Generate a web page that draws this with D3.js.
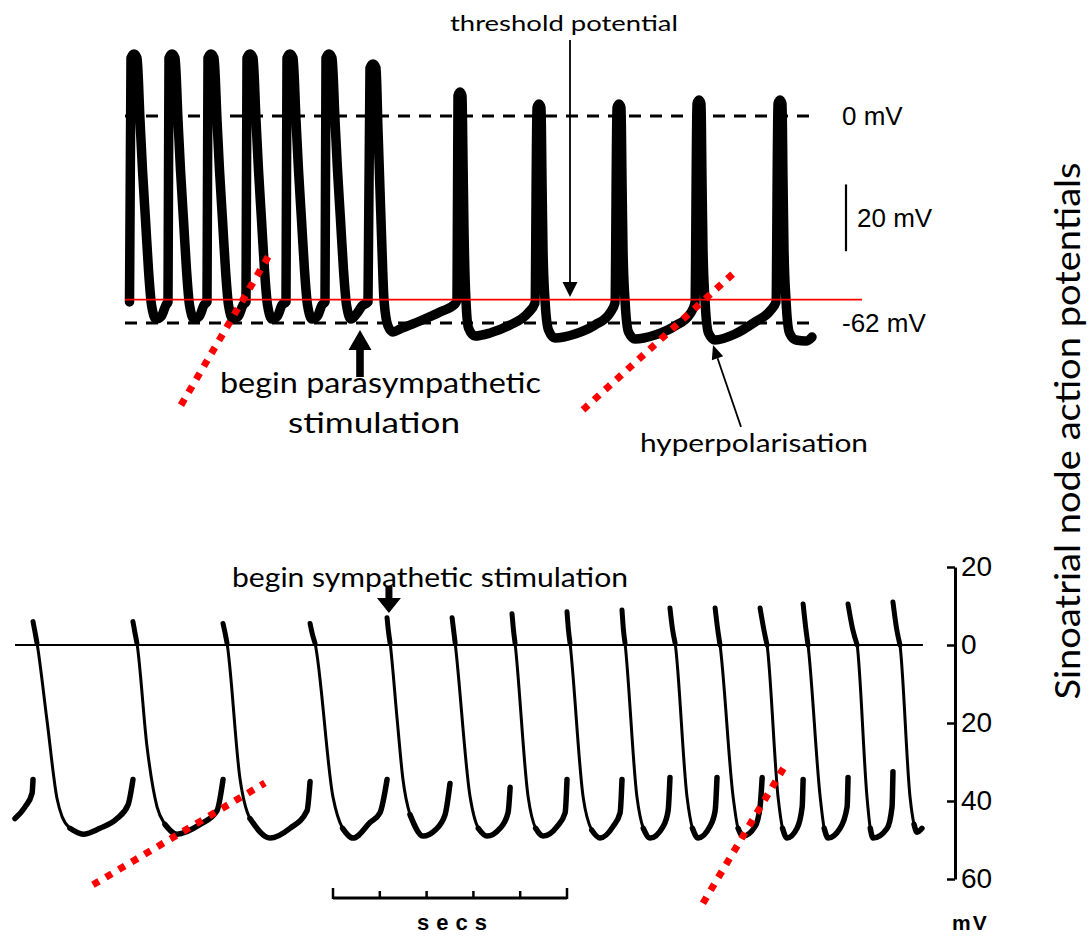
<!DOCTYPE html>
<html>
<head>
<meta charset="utf-8">
<script src="https://cdn.jsdelivr.net/npm/d3@7"></script>
<style>
  body { margin: 0; background: #fff; }
  svg { display: block; }
</style>
</head>
<body>
<svg id="chart" width="1091" height="939"></svg>
<script>
// ---------- Top record: vagal (parasympathetic) slowing, time in ms, membrane potential in mV ----------
const topTrace = [
  [18,-55.7],[24,17.4],[36,18.6],[48,17.4],[60,-1.2],[70,-16.2],[82,-31.1],[94,-46.1],[106,-56.6],[124,-60.8],[146,-59.9],[164,-56.6],
  [172,-55.7],[176,17.4],[188,18.6],[200,17.4],[212,-1.2],[222,-16.2],[234,-31.1],[246,-46.1],[258,-56.6],[276,-60.8],[298,-59.9],[316,-56.6],
  [328,-55.7],[332,17.4],[344,18.6],[356,17.4],[368,-1.2],[378,-16.2],[390,-31.1],[402,-46.1],[414,-56.6],[432,-60.8],[454,-59.9],[472,-56.6],
  [484,-55.7],[488,17.4],[500,18.6],[512,17.4],[524,-1.2],[534,-16.2],[546,-31.1],[558,-46.1],[570,-56.6],[588,-60.8],[610,-59.9],[628,-56.6],
  [644,-55.7],[648,17.4],[660,18.6],[672,17.4],[684,-1.2],[694,-16.2],[706,-31.1],[718,-46.1],[730,-56.6],[748,-60.8],[770,-59.9],[788,-56.6],
  [800,-55.7],[804,17.4],[816,18.6],[828,17.4],[840,-1.2],[850,-16.2],[862,-31.1],[874,-46.1],[886,-56.6],[904,-60.8],[926,-59.3],[948,-56.9],[972,-55.7],
  [980,14.4],[992,15.6],[1004,14.4],[1012,-4.2],[1020,-22.2],[1028,-40.1],[1036,-55.1],[1052,-62.9],[1072,-64.7],[1100,-63.8],[1180,-61.4],[1260,-58.7],[1320,-56.3],
  [1328,-55.1],[1332,6.0],[1340,7.2],[1348,6.0],[1352,-13.2],[1356,-34.1],[1362,-52.1],[1374,-63.5],[1400,-65.9],[1460,-65.0],[1540,-62.6],[1612,-59.0],[1640,-56.0],
  [1648,2.4],[1656,3.6],[1664,2.4],[1668,-19.2],[1672,-40.1],[1680,-55.1],[1694,-64.1],[1720,-66.5],[1800,-65.3],[1880,-62.6],[1940,-59.0],[1960,-56.0],
  [1968,2.4],[1976,3.6],[1984,2.4],[1988,-19.2],[1992,-40.1],[2000,-55.1],[2014,-64.7],[2040,-66.8],[2120,-65.6],[2200,-62.9],[2260,-59.3],[2280,-56.0],
  [2288,3.6],[2296,4.8],[2304,3.6],[2308,-19.2],[2312,-40.1],[2320,-55.1],[2334,-65.0],[2360,-67.1],[2440,-65.3],[2520,-61.7],[2580,-58.4],[2604,-55.7],
  [2612,3.6],[2620,4.8],[2628,3.6],[2632,-19.2],[2636,-40.1],[2644,-55.1],[2658,-65.0],[2684,-67.1],[2724,-67.4],[2748,-66.2]
];
const topRefLevels = [0, -62];
const topRefLabels = ["0 mV", "-62 mV"];
const thresholdMv = -55;
const scaleBarMv = 20;
const topSlopeLines = [
  [[224,-86.6],[584,-40.7]],
  [[1832,-88.0],[2440,-46.7]]
];

// ---------- Bottom record: sympathetic acceleration (oscilloscope sweep, upstrokes not visible) ----------
const bottomSegments = [
  [[0,-44.5],[43,-41.5],[73,-38],[77,-34.5]],
  [[77,6],[85,3.5],[94,0.5],[137,-19.5],[180,-39.5],[201,-44],[235,-47],[291,-48.5],[363,-47],[436,-44.5],[483,-41],[504,-34.5]],
  [[504,6],[513,3],[521,0.5],[564,-26],[607,-41.5],[641,-46],[692,-48.5],[791,-46],[863,-42.5],[889,-34.5]],
  [[889,5.5],[898,3],[906,0.5],[962,-34.5],[1004,-44.5],[1090,-49.5],[1175,-47],[1248,-42.5],[1261,-35]],
  [[1261,5.5],[1270,3],[1282,0.5],[1359,-39],[1400,-47],[1445,-49.5],[1517,-45.5],[1560,-43],[1590,-34.5]],
  [[1590,7],[1596,3.5],[1603,0.5],[1633,-19],[1658,-34.5],[1688,-43.5],[1744,-49],[1795,-47.5],[1838,-43.5],[1859,-35.5]],
  [[1868,7],[1875,3.5],[1881,0.5],[1945,-39],[1980,-47],[2017,-49],[2073,-47],[2107,-43],[2116,-36.5]],
  [[2124,8],[2130,4],[2137,0.5],[2193,-39],[2225,-47],[2257,-49],[2317,-46.5],[2351,-43],[2359,-34.5]],
  [[2359,8.5],[2365,4],[2372,0.5],[2428,-39],[2465,-47.5],[2500,-49.5],[2556,-46.5],[2586,-43],[2594,-34.5]],
  [[2594,9],[2600,4],[2607,0.5],[2658,-39],[2685,-47],[2714,-49.5],[2770,-46.5],[2791,-42.5],[2799,-34]],
  [[2799,9.5],[2810,4],[2821,0.5],[2872,-39],[2895,-47],[2919,-49.5],[2970,-46.5],[2992,-42.5],[3000,-34]],
  [[2992,9.5],[3003,4],[3013,0],[3069,-39],[3090,-47],[3111,-49],[3163,-46.5],[3184,-41.5],[3193,-34]],
  [[3184,9.5],[3200,4],[3214,0],[3261,-39],[3280,-47],[3299,-49.5],[3342,-47],[3364,-41.5],[3368,-34.5]],
  [[3368,10.5],[3380,4],[3389,0],[3441,-39],[3458,-47],[3475,-49.5],[3526,-47],[3556,-41.5],[3560,-34]],
  [[3560,10.5],[3580,4],[3599,0],[3641,-39],[3655,-47],[3667,-49.5],[3727,-47],[3748,-41.5],[3752,-32.5]],
  [[3752,11],[3768,4],[3782,0],[3825,-39],[3842,-46],[3855,-48],[3876,-47]]
];
const bottomTicks = [20, 0, -20, -40, -60];
const secsStart = 1359;
const secsTicks = [0, 200, 400, 600, 800, 1000];
const bottomSlopeLines = [
  [[333,-61.5],[1068,-35.4]],
  [[2940,-66.2],[3300,-30.0]]
];

// ---------- drawing ----------
const svg = d3.select("#chart");
svg.append("rect").attr("width", 1091).attr("height", 939).attr("fill", "#fff");

const calibriLike = "Lato, 'Open Sans', sans-serif";
const arialLike = "'Liberation Sans', Arial, sans-serif";
const RED = "#ff0000";

// Top panel scales
const xTop = d3.scaleLinear().domain([0, 2760]).range([125, 815]);
const yTop = d3.scaleLinear().domain([0, -62]).range([116, 323]);

const gTop = svg.append("g");

// dashed reference levels
gTop.selectAll("line.ref").data(topRefLevels).join("line")
  .attr("class", "ref")
  .attr("x1", xTop(0)).attr("x2", xTop(2760))
  .attr("y1", d => yTop(d)).attr("y2", d => yTop(d))
  .attr("stroke", "#000").attr("stroke-width", 3)
  .attr("stroke-dasharray", "12,9");

// membrane potential trace
const lineTop = d3.line().x(d => xTop(d[0])).y(d => yTop(d[1])).curve(d3.curveMonotoneX);
gTop.append("path").datum(topTrace)
  .attr("d", lineTop)
  .attr("fill", "none").attr("stroke", "#000")
  .attr("stroke-width", 9.5).attr("stroke-linejoin", "round").attr("stroke-linecap", "round");

// threshold level
gTop.append("line")
  .attr("x1", xTop(0)).attr("x2", xTop(2948))
  .attr("y1", yTop(thresholdMv)).attr("y2", yTop(thresholdMv))
  .attr("stroke", RED).attr("stroke-width", 1.6);

// reference labels
gTop.selectAll("text.ref").data(topRefLevels).join("text")
  .attr("class", "ref")
  .attr("x", 842).attr("y", d => yTop(d) + 9)
  .attr("font-family", arialLike).attr("font-size", 26).attr("fill", "#000")
  .text((d, i) => topRefLabels[i]);

// 20 mV calibration bar
const barTop = -20.5;
gTop.append("line")
  .attr("x1", 846).attr("x2", 846)
  .attr("y1", yTop(barTop)).attr("y2", yTop(barTop - scaleBarMv))
  .attr("stroke", "#000").attr("stroke-width", 2.2);
gTop.append("text")
  .attr("x", 857).attr("y", yTop(barTop - scaleBarMv / 2) + 9)
  .attr("font-family", arialLike).attr("font-size", 26).attr("fill", "#000")
  .text(scaleBarMv + " mV");

// red dotted slope guides
function dotted(g, lines, xs, ys) {
  g.selectAll(null).data(lines).join("line")
    .attr("x1", d => xs(d[0][0])).attr("y1", d => ys(d[0][1]))
    .attr("x2", d => xs(d[1][0])).attr("y2", d => ys(d[1][1]))
    .attr("stroke", RED).attr("stroke-width", 7)
    .attr("stroke-dasharray", "7,8");
}
dotted(gTop, topSlopeLines, xTop, yTop);

// thin arrow helper
function thinArrow(g, x1, y1, x2, y2, headLen, headHalf) {
  const a = Math.atan2(y2 - y1, x2 - x1);
  const bx = x2 - headLen * Math.cos(a), by = y2 - headLen * Math.sin(a);
  g.append("line").attr("x1", x1).attr("y1", y1).attr("x2", bx).attr("y2", by)
    .attr("stroke", "#000").attr("stroke-width", 1.8);
  const px = -Math.sin(a) * headHalf, py = Math.cos(a) * headHalf;
  g.append("path")
    .attr("d", `M${x2},${y2}L${bx + px},${by + py}L${bx - px},${by - py}Z`)
    .attr("fill", "#000");
}
// block arrow helper (vertical)
function blockArrow(g, tipX, tipY, dir, headLen, headHalf, shaftLen, shaftHalf) {
  const s = dir; // +1 points up (shaft below), -1 points down (shaft above)
  const hb = tipY + s * headLen, se = hb + s * shaftLen;
  g.append("path")
    .attr("d", `M${tipX},${tipY}L${tipX + headHalf},${hb}L${tipX + shaftHalf},${hb}L${tipX + shaftHalf},${se}` +
               `L${tipX - shaftHalf},${se}L${tipX - shaftHalf},${hb}L${tipX - headHalf},${hb}Z`)
    .attr("fill", "#000");
}

// threshold annotation
gTop.append("text").attr("x", 450).attr("y", 31)
  .attr("font-family", calibriLike).attr("font-size", 22).attr("fill", "#000")
  .attr("textLength", 228).attr("lengthAdjust", "spacingAndGlyphs")
  .text("threshold potential");
thinArrow(gTop, xTop(1780), yTop(22.8), xTop(1780), yTop(-54.2), 15, 7.5);

// onset of vagal stimulation
blockArrow(gTop, xTop(940), yTop(-64.1), 1, 20, 11.5, 27, 3.8);
gTop.append("text").attr("x", 220).attr("y", 393)
  .attr("font-family", calibriLike).attr("font-size", 29).attr("fill", "#000")
  .attr("textLength", 321).attr("lengthAdjust", "spacingAndGlyphs")
  .text("begin parasympathetic");
gTop.append("text").attr("x", 288).attr("y", 433)
  .attr("font-family", calibriLike).attr("font-size", 29).attr("fill", "#000")
  .attr("textLength", 172).attr("lengthAdjust", "spacingAndGlyphs")
  .text("stimulation");

// hyperpolarisation annotation
thinArrow(gTop, xTop(2464), yTop(-93.1), xTop(2352), yTop(-68.6), 14, 6);
gTop.append("text").attr("x", 640).attr("y", 452)
  .attr("font-family", calibriLike).attr("font-size", 25).attr("fill", "#000")
  .attr("textLength", 228).attr("lengthAdjust", "spacingAndGlyphs")
  .text("hyperpolarisation");

// ---------- Bottom panel ----------
const xBot = d3.scaleLinear().domain([0, 3900]).range([15, 927.6]);
const yBot = d3.scaleLinear().domain([20, -60]).range([567, 879]);
const gBot = svg.append("g");

// zero line
gBot.append("line")
  .attr("x1", xBot(0)).attr("x2", xBot(3880))
  .attr("y1", yBot(0)).attr("y2", yBot(0))
  .attr("stroke", "#000").attr("stroke-width", 2.2);

const lineBot = d3.line().x(d => xBot(d[0])).y(d => yBot(d[1])).curve(d3.curveMonotoneX);
bottomSegments.forEach((seg, i) => {
  gBot.append("path").datum(seg).attr("d", lineBot)
    .attr("fill", "none").attr("stroke", "#000").attr("stroke-width", 3)
    .attr("stroke-linecap", "round").attr("stroke-linejoin", "round");
  // slow diastolic portion is traced heavier by the beam
  const minIdx = d3.minIndex(seg, d => d[1]);
  gBot.append("path").datum(seg.slice(Math.max(0, minIdx - 1)))
    .attr("d", lineBot)
    .attr("fill", "none").attr("stroke", "#000").attr("stroke-width", 5.5)
    .attr("stroke-linecap", "round");
  if (i > 0) {
    gBot.append("path").datum(seg.slice(0, 3)).attr("d", lineBot)
      .attr("fill", "none").attr("stroke", "#000").attr("stroke-width", 5)
      .attr("stroke-linecap", "round");
  }
});

dotted(gBot, bottomSlopeLines, xBot, yBot);

// voltage axis (mV, shown without sign)
const axis = d3.axisRight(yBot).tickValues(bottomTicks).tickFormat(d => Math.abs(d))
  .tickSizeInner(-8).tickSizeOuter(0).tickPadding(6);
const gAxis = gBot.append("g").attr("transform", "translate(955,0)").call(axis);
gAxis.select(".domain").attr("stroke", "#000").attr("stroke-width", 3);
gAxis.selectAll(".tick line").attr("stroke", "#000").attr("stroke-width", 2.5);
gAxis.selectAll(".tick text").attr("font-family", arialLike).attr("font-size", 28).attr("fill", "#000");
gBot.append("text").attr("x", 952).attr("y", 930)
  .attr("font-family", arialLike).attr("font-size", 21).attr("font-weight", "bold")
  .attr("letter-spacing", 2).attr("fill", "#000")
  .text("mV");

// time calibration bar
gBot.append("line")
  .attr("x1", xBot(secsStart)).attr("x2", xBot(secsStart + 1000))
  .attr("y1", 898).attr("y2", 898)
  .attr("stroke", "#000").attr("stroke-width", 3);
gBot.selectAll("line.sec").data(secsTicks).join("line").attr("class", "sec")
  .attr("x1", d => xBot(secsStart + d)).attr("x2", d => xBot(secsStart + d))
  .attr("y1", 899).attr("y2", (d, i) => (i === 0 || i === secsTicks.length - 1) ? 888 : 891)
  .attr("stroke", "#000").attr("stroke-width", 2.5);
gBot.append("text").attr("x", 417).attr("y", 930)
  .attr("font-family", arialLike).attr("font-size", 22).attr("font-weight", "bold")
  .attr("letter-spacing", 7).attr("fill", "#000")
  .text("secs");

// onset of sympathetic stimulation
blockArrow(gBot, xBot(1598), yBot(8.2), -1, 15, 12, 12, 3.5);
gBot.append("text").attr("x", 232).attr("y", 587)
  .attr("font-family", calibriLike).attr("font-size", 26).attr("fill", "#000")
  .attr("textLength", 396).attr("lengthAdjust", "spacingAndGlyphs")
  .text("begin sympathetic stimulation");

// side title
svg.append("text")
  .attr("transform", "translate(1080,431) rotate(-90)")
  .attr("text-anchor", "middle")
  .attr("font-family", calibriLike).attr("font-size", 35).attr("fill", "#000")
  .attr("textLength", 537).attr("lengthAdjust", "spacingAndGlyphs")
  .text("Sinoatrial node action potentials");
</script>
</body>
</html>
